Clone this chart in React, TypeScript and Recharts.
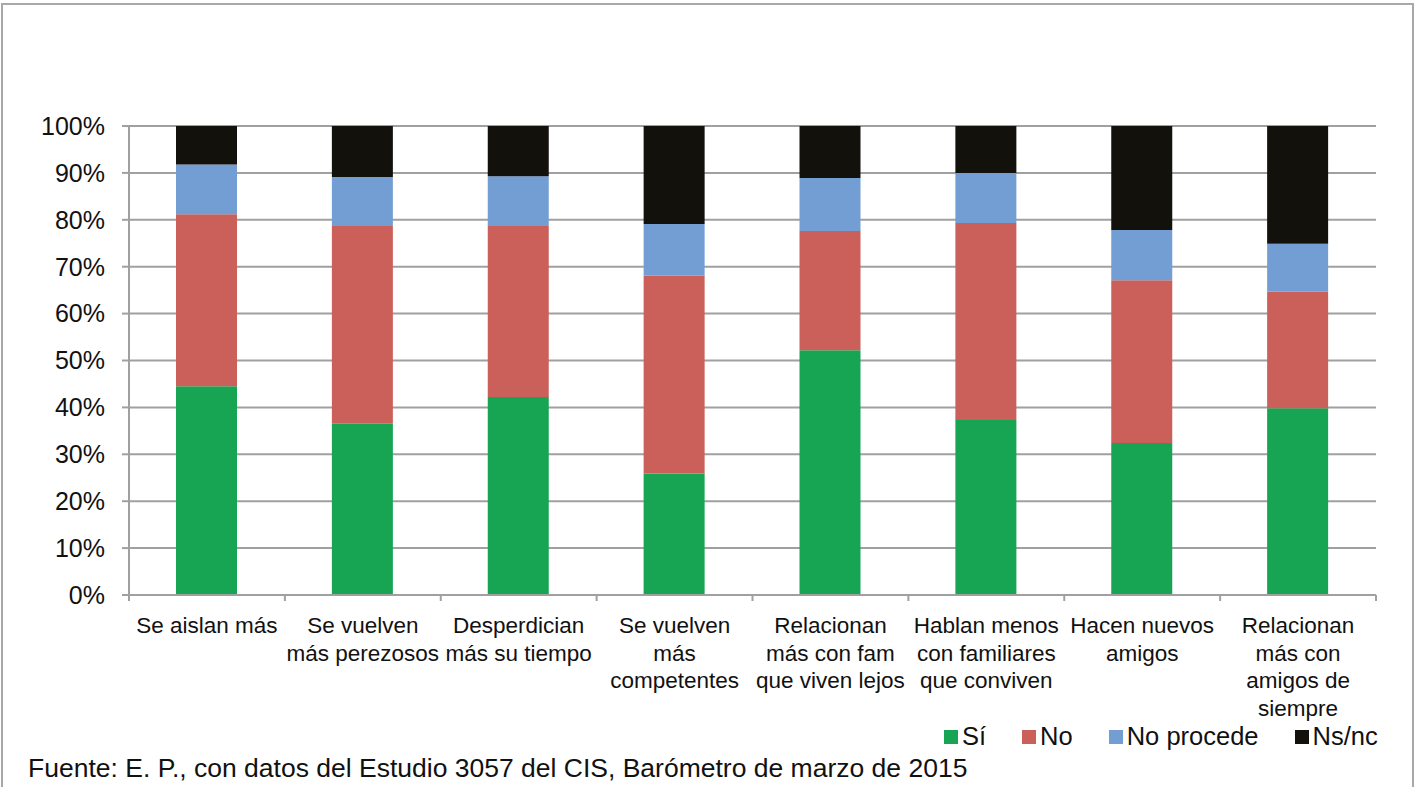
import React from 'react';
import { BarChart, Bar, XAxis, YAxis, CartesianGrid } from 'recharts';

const categories = [
  'Se aislan más',
  'Se vuelven\nmás perezosos',
  'Desperdician\nmás su tiempo',
  'Se vuelven\nmás\ncompetentes',
  'Relacionan\nmás con fam\nque viven lejos',
  'Hablan menos\ncon familiares\nque conviven',
  'Hacen nuevos\namigos',
  'Relacionan\nmás con\namigos de\nsiempre',
];

const si = [44.5, 36.5, 42.2, 25.9, 52.2, 37.3, 32.4, 39.8];
const no = [36.7, 42.2, 36.5, 42.2, 25.4, 42.0, 34.7, 24.9];
const noProcede = [10.6, 10.4, 10.6, 11.0, 11.3, 10.7, 10.7, 10.2];
const nsnc = [8.2, 10.9, 10.7, 20.9, 11.1, 10.0, 22.2, 25.1];

const yTicks = [0, 10, 20, 30, 40, 50, 60, 70, 80, 90, 100];

const series = [
  { key: 'si', name: 'Sí', color: '#17A554' },
  { key: 'no', name: 'No', color: '#CB605A' },
  { key: 'np', name: 'No procede', color: '#729ED4' },
  { key: 'ns', name: 'Ns/nc', color: '#13110C' },
];

const data = categories.map((c, i) => ({
  cat: c,
  si: si[i],
  no: no[i],
  np: noProcede[i],
  ns: nsnc[i],
}));

const W = 1418;
const H = 787;
const xAxisHeight = 30;
const margin = { top: 126, right: 42, bottom: 192 - xAxisHeight, left: 0 };
const yAxisWidth = 129;
const step = (W - margin.left - margin.right - yAxisWidth) / categories.length;
const GRID = '#A0A0A0';

const CatTick = (props: any) => {
  const { x, y, payload, index } = props;
  const lines: string[] = String(payload.value).split('\n');
  return (
    <g>
      <line x1={x - step / 2} y1={y} x2={x - step / 2} y2={y + 6} stroke={GRID} strokeWidth={2} />
      {index === categories.length - 1 && (
        <line x1={x + step / 2} y1={y} x2={x + step / 2} y2={y + 6} stroke={GRID} strokeWidth={2} />
      )}
      <text x={x} y={y + 38} textAnchor="middle" fontSize={22.5} fill="#111">
        {lines.map((l, i) => (
          <tspan key={i} x={x} dy={i === 0 ? 0 : 27.5}>{l}</tspan>
        ))}
      </text>
    </g>
  );
};

export default function App() {
  return (
    <div
      style={{
        position: 'fixed',
        left: 0,
        top: 0,
        width: W,
        height: H,
        overflow: 'hidden',
        background: '#fff',
        fontFamily: '"Liberation Sans", Arial, sans-serif',
      }}
    >
      <div
        style={{
          position: 'absolute',
          left: 1,
          top: 3,
          width: 1409,
          height: 900,
          border: '2px solid #A8A8A8',
        }}
      />
      <div style={{ position: 'absolute', left: 0, top: 0 }}>
        <BarChart width={W} height={H} data={data} margin={margin}>
          <CartesianGrid vertical={false} stroke={GRID} strokeWidth={2} />
          <XAxis
            dataKey="cat"
            interval={0}
            height={xAxisHeight}
            tick={<CatTick />}
            tickLine={false}
            tickSize={0}
            tickMargin={0}
            axisLine={{ stroke: GRID, strokeWidth: 2 }}
          />
          <YAxis
            width={yAxisWidth}
            domain={[0, 100]}
            ticks={yTicks}
            tickFormatter={(v) => `${v}%`}
            tick={{ fontSize: 25, fill: '#111' }}
            tickSize={7}
            tickMargin={17}
            tickLine={{ stroke: GRID, strokeWidth: 2 }}
            axisLine={{ stroke: GRID, strokeWidth: 2 }}
          />
          {series.map((s) => (
            <Bar
              key={s.key}
              dataKey={s.key}
              name={s.name}
              stackId="a"
              fill={s.color}
              barSize={61}
              isAnimationActive={false}
            />
          ))}
        </BarChart>
      </div>
      <div
        style={{
          position: 'absolute',
          left: 944,
          top: 722,
          display: 'flex',
          alignItems: 'center',
          fontSize: 25.5,
          color: '#111',
          whiteSpace: 'nowrap',
        }}
      >
        {series.map((s) => (
          <div key={s.key} style={{ display: 'flex', alignItems: 'center', marginRight: 36 }}>
            <span style={{ display: 'inline-block', width: 14, height: 14, background: s.color, marginRight: 4 }} />
            <span>{s.name}</span>
          </div>
        ))}
      </div>
      <div
        style={{
          position: 'absolute',
          left: 28,
          top: 753,
          fontSize: 26.5,
          color: '#111',
          whiteSpace: 'nowrap',
        }}
      >
        Fuente: E. P., con datos del Estudio 3057 del CIS, Barómetro de marzo de 2015
      </div>
    </div>
  );
}
